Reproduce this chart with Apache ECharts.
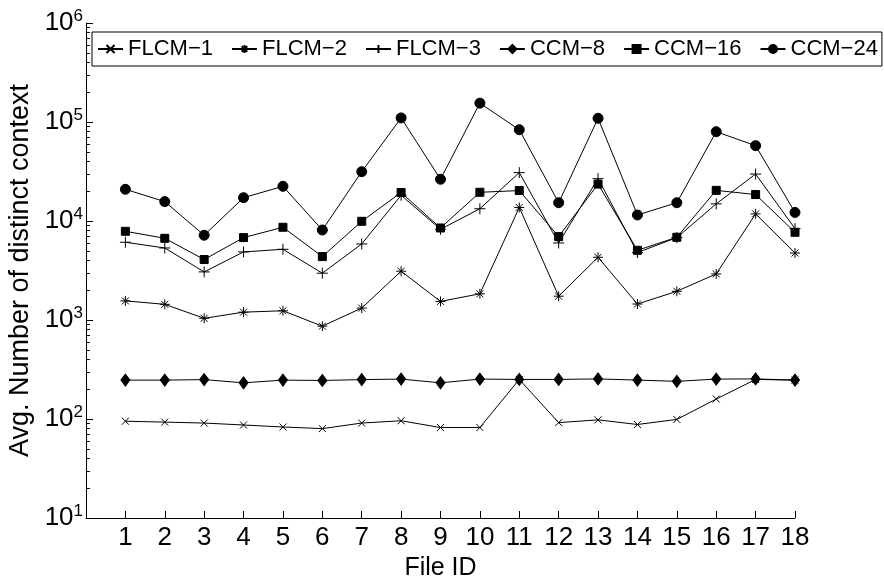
<!DOCTYPE html>
<html>
<head>
<meta charset="utf-8">
<script src="https://cdn.jsdelivr.net/npm/echarts@6/dist/echarts.min.js"></script>
<style>
  html, body { margin: 0; padding: 0; background: #fff; }
  #main { width: 884px; height: 577px; }
</style>
</head>
<body>
<div id="main"></div>
<script>
// file ids on the x axis
var fileIds = [1, 2, 3, 4, 5, 6, 7, 8, 9, 10, 11, 12, 13, 14, 15, 16, 17, 18];

// values
var flcm1 = [95, 93, 91, 87, 83, 80, 91, 96, 82, 82, 251, 92, 98, 88, 99, 159, 251, 247];
var flcm2 = [1560, 1440, 1040, 1200, 1240, 866, 1320, 3110, 1540, 1840, 13700, 1740, 4300, 1450, 1950, 2920, 11800, 4750];
var flcm3 = [6100, 5340, 3060, 4870, 5180, 2970, 5860, 18200, 8240, 13300, 30800, 6000, 26800, 4800, 6800, 14900, 29800, 8380];
var ccm8 = [247, 247, 250, 232, 247, 245, 250, 253, 232, 253, 251, 251, 254, 247, 240, 253, 254, 247];
var ccm16 = [7870, 6690, 4080, 6800, 8640, 4370, 9930, 19400, 8500, 19500, 20300, 6960, 23600, 5060, 6850, 20400, 18500, 7690];
var ccm24 = [20900, 15700, 7180, 17200, 22400, 8110, 31500, 110000, 26400, 155000, 83600, 15300, 109000, 11500, 15300, 79800, 57700, 12200];

var seriesNames = ['FLCM\u22121', 'FLCM\u22122', 'FLCM\u22123', 'CCM\u22128', 'CCM\u221216', 'CCM\u221224'];

// minor ticks of the log axis (2..9 in every decade), as exponents
var minorTicks = [];
for (var d = 1; d < 6; d++) {
    for (var k = 2; k <= 9; k++) minorTicks.push(d + Math.log10(k));
}

var FONT = 'Liberation Sans';

function pairs(vals) {
    return vals.map(function (v, i) { return [fileIds[i], v]; });
}

function makeSeries(name, vals, symbol, size) {
    return {
        name: name,
        type: 'line',
        yAxisIndex: 0,
        data: pairs(vals),
        symbol: symbol,
        symbolSize: size,
        showAllSymbol: true,
        color: '#000',
        lineStyle: { color: '#000', width: 1 },
        itemStyle: { color: '#000', borderColor: '#000', borderWidth: 1 },
        emphasis: { disabled: true },
        animation: false
    };
}

var chart = echarts.init(document.getElementById('main'));

var series = [
    makeSeries(seriesNames[0], flcm1, 'path://M0,0L10,10M10,0L0,10', 7),
    makeSeries(seriesNames[1], flcm2, 'path://M5,0L5,10M0,5L10,5M1.5,1.5L8.5,8.5M8.5,1.5L1.5,8.5', 10),
    makeSeries(seriesNames[2], flcm3, 'path://M5,0L5,10M0,5L10,5', 11),
    makeSeries(seriesNames[3], ccm8, 'diamond', [9, 12]),
    makeSeries(seriesNames[4], ccm16, 'rect', 8),
    makeSeries(seriesNames[5], ccm24, 'circle', 10)
];
// empty series so the helper axis (minor ticks) is laid out
series.push({ type: 'line', name: 'minor', yAxisIndex: 1, data: [], silent: true });

var option = {
    backgroundColor: '#fff',
    textStyle: { fontFamily: FONT },
    grid: { left: 86, right: 89, top: 23, bottom: 59, outerBoundsMode: 'none' },
    legend: {
        left: 92,
        top: 32,
        padding: [6, 4, 6, 5],
        itemGap: 18,
        itemWidth: 25,
        itemHeight: 10,
        borderColor: '#000',
        borderWidth: 1,
        backgroundColor: '#fff',
        textStyle: { fontSize: 22, color: '#000', fontFamily: FONT },
        data: seriesNames
    },
    xAxis: {
        type: 'value',
        min: 0,
        max: 18,
        interval: 1,
        name: 'File ID',
        nameLocation: 'middle',
        nameGap: 30,
        nameTextStyle: { fontSize: 25, color: '#000', fontFamily: FONT },
        axisLine: { show: true, lineStyle: { color: '#000', width: 1 } },
        axisTick: { show: true, inside: true, length: 7, lineStyle: { color: '#000' } },
        axisLabel: {
            margin: 7,
            fontSize: 26,
            color: '#000',
            fontFamily: FONT,
            formatter: function (v) { return v === 0 ? '' : String(v); }
        },
        splitLine: { show: false }
    },
    yAxis: [{
        type: 'log',
        logBase: 10,
        min: 10,
        max: 1e6,
        name: 'Avg. Number of distinct context',
        nameLocation: 'middle',
        nameGap: 50,
        nameTextStyle: { fontSize: 27, color: '#000', fontFamily: FONT },
        axisLine: { show: true, lineStyle: { color: '#000', width: 1 } },
        axisTick: { show: true, inside: true, length: 7, lineStyle: { color: '#000', width: 1 } },
        axisLabel: {
            margin: 3,
            color: '#000',
            formatter: function (v) {
                var e = Math.round(Math.log10(v));
                return '{a|10}{b|' + e + '}';
            },
            rich: {
                a: { fontSize: 26, fontFamily: FONT, color: '#000', lineHeight: 30 },
                b: { fontSize: 17, fontFamily: FONT, color: '#000', verticalAlign: 'top', lineHeight: 30, padding: [0, 0, 14, 0] }
            }
        },
        splitLine: { show: false }
    }, {
        // helper axis in exponent space, only draws the minor ticks
        type: 'value',
        min: 1,
        max: 6,
        position: 'left',
        offset: 0,
        axisLine: { show: false, onZero: false },
        axisTick: { show: true, inside: true, length: 4, customValues: minorTicks, lineStyle: { color: '#000', width: 1 } },
        axisLabel: { show: true, customValues: minorTicks, formatter: function () { return ''; } },
        splitLine: { show: false }
    }],
    series: series
};

chart.setOption(option);
</script>
</body>
</html>
